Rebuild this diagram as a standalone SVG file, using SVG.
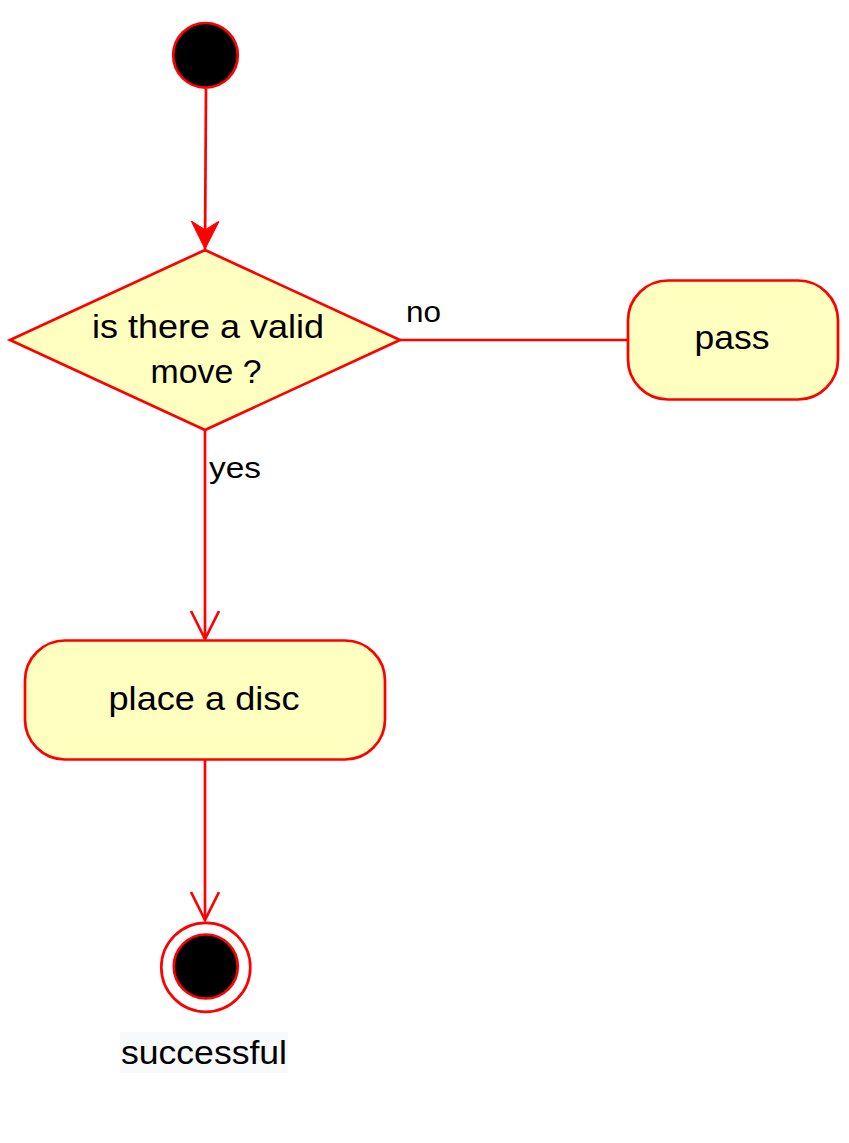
<svg xmlns="http://www.w3.org/2000/svg" width="849" height="1143" viewBox="0 0 849 1143">
<style>
.node{fill:#FFFFC0;stroke:#FF0000;stroke-width:2.7}
.dot{fill:#000000;stroke:#FF0000;stroke-width:2.7}
.edge{fill:none;stroke:#FF0000;stroke-width:2.7}
.lbl{font-family:"Liberation Sans",Arial,sans-serif;font-size:32.5px;fill:#000000}
.elbl{font-family:"Liberation Sans",Arial,sans-serif;font-size:29px;fill:#000000}
</style>
<defs>
<marker id="filled" markerUnits="userSpaceOnUse" markerWidth="40" markerHeight="40" refX="28" refY="14" orient="auto">
<path d="M0,0 L28,14 L0,28 L9,14 Z" fill="#FF0000" stroke="#FF0000" stroke-width="1"/>
</marker>
<marker id="open" markerUnits="userSpaceOnUse" markerWidth="40" markerHeight="40" refX="29" refY="15" orient="auto">
<path d="M1,1 L29,15 L1,29" fill="none" stroke="#FF0000" stroke-width="2.7"/>
</marker>
</defs>
<rect width="849" height="1143" fill="#FFFFFF"/>
<g id="connectors">
<line class="edge" x1="206" y1="89" x2="205" y2="249" marker-end="url(#filled)"/>
<line class="edge" x1="205" y1="430" x2="205" y2="639" marker-end="url(#open)"/>
<line class="edge" x1="400" y1="340" x2="628" y2="340"/>
<line class="edge" x1="205" y1="760" x2="205" y2="920" marker-end="url(#open)"/>
<text class="elbl" x="406" y="322" textLength="35" lengthAdjust="spacingAndGlyphs">no</text>
<text class="elbl" x="209" y="478" textLength="52" lengthAdjust="spacingAndGlyphs">yes</text>
</g>
<g id="start">
<circle class="dot" cx="205.5" cy="55.3" r="32.3"/>
</g>
<g id="decision">
<polygon class="node" points="205,250 400,340 205,430 10,340"/>
<text class="lbl" x="208" y="338" text-anchor="middle" textLength="232" lengthAdjust="spacingAndGlyphs">is there a valid</text>
<text class="lbl" x="206" y="383" text-anchor="middle" textLength="111" lengthAdjust="spacingAndGlyphs">move ?</text>
</g>
<g id="pass">
<rect class="node" x="628" y="280.5" width="210" height="119" rx="40" ry="40"/>
<text class="lbl" x="732" y="348.5" text-anchor="middle" textLength="75" lengthAdjust="spacingAndGlyphs">pass</text>
</g>
<g id="place">
<rect class="node" x="25" y="640.5" width="360" height="119" rx="40" ry="40"/>
<text class="lbl" x="204" y="710" text-anchor="middle" textLength="191" lengthAdjust="spacingAndGlyphs">place a disc</text>
</g>
<g id="end">
<circle cx="205.8" cy="967.3" r="44.5" fill="#FFFFFF" stroke="#FF0000" stroke-width="2.7"/>
<circle class="dot" cx="205.8" cy="966.5" r="32"/>
<rect x="120" y="1032" width="168" height="41" fill="#F8F9FA"/>
<text class="lbl" x="204" y="1064" text-anchor="middle" textLength="166" lengthAdjust="spacingAndGlyphs">successful</text>
</g>
</svg>
